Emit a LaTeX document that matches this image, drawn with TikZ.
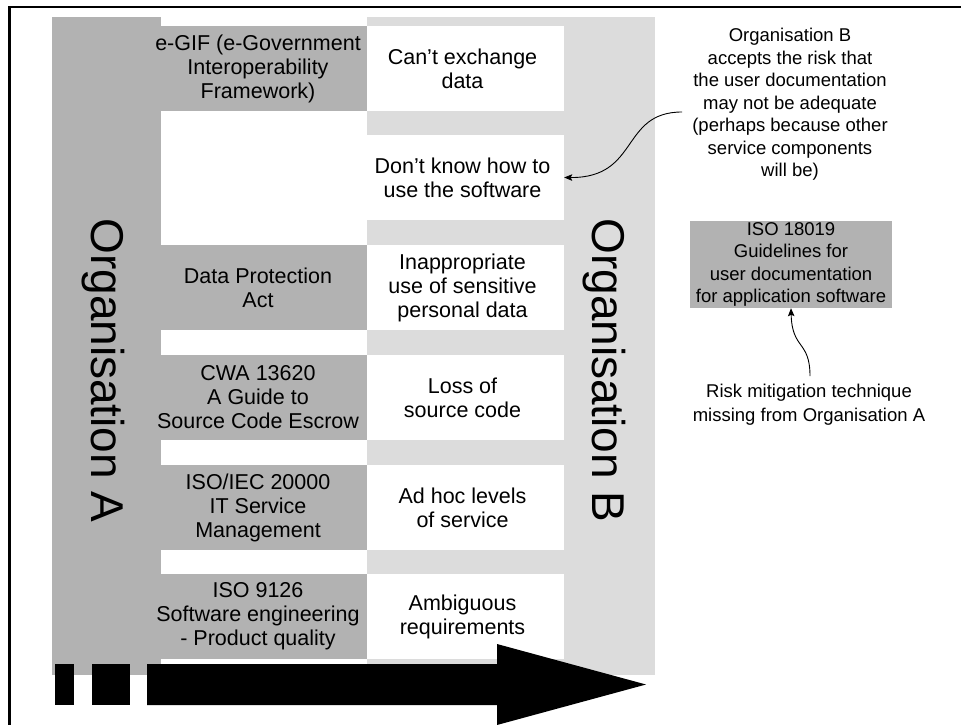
\documentclass[tikz,border=0pt]{standalone}
\usepackage{fontspec}
\setmainfont{Liberation Sans}
\usetikzlibrary{arrows.meta}
\definecolor{darkband}{gray}{0.70}
\definecolor{lightband}{gray}{0.863}
\begin{document}
\begin{tikzpicture}[x=1pt,y=-1pt,
  boxtext/.style={align=center, inner sep=0pt, font=\fontsize{21.5}{24}\selectfont},
  stdbox/.style={fill=darkband, minimum width=206pt, minimum height=85pt,
    inner sep=0pt, label={[boxtext, xshift=-6pt]center:{#1}}},
  riskbox/.style={fill=white, minimum width=197pt, minimum height=85pt,
    inner sep=0pt, label={[boxtext, xshift=-3pt]center:{#1}}},
  orglabel/.style={rotate=-90, anchor=base, inner sep=0pt,
    font=\fontsize{46}{50}\selectfont},
  note/.style={align=center, inner sep=0pt, font=\fontsize{18.5}{22.5}\selectfont},
  callout/.style={-{Stealth[length=8pt,width=6.5pt,inset=1.5pt]}, line width=0.9pt}
]
\useasboundingbox (0,0) rectangle (961,725);

% frame (top and left edges)
\draw[line width=2.3pt] (9.5,740) -- (9.5,6.7) -- (975,6.7);

% the two organisation bands
\fill[darkband] (52,17) rectangle (161,675);
\fill[lightband] (367,17) rectangle (655,675);

% mitigation standards held by Organisation A
\node[stdbox={e-GIF (e-Government\\Interoperability\\Framework)}] (s1) at (264,68.5) {};
\node[stdbox={Data Protection\\Act}] (s3) at (264,287.5) {};
\node[stdbox={CWA 13620\\A Guide to\\Source Code Escrow}] (s4) at (264,397.5) {};
\node[stdbox={ISO/IEC 20000\\IT Service\\Management}] (s5) at (264,507.5) {};
\node[stdbox={ISO 9126\\Software engineering\\- Product quality}] (s6) at (264,616.5) {};

% risks faced by Organisation B
\node[riskbox={Can’t exchange\\data}] (r1) at (465.5,68.5) {};
\node[riskbox={Don’t know how to\\use the software}] (dk) at (465.5,177.5) {};
\node[riskbox={Inappropriate\\use of sensitive\\personal data}] (r3) at (465.5,287.5) {};
\node[riskbox={Loss of\\source code}] (r4) at (465.5,397.5) {};
\node[riskbox={Ad hoc levels\\of service}] (r5) at (465.5,507.5) {};
\node[riskbox={Ambiguous\\requirements}] (r6) at (465.5,616.5) {};

% band titles
\node[orglabel] (orgA) at (91,370.5) {Organisation A};
\node[orglabel] (orgB) at (592,370.5) {Organisation B};

% direction arrow
\fill (55,664) rectangle (74,705);
\fill (92,664) rectangle (130,705);
\fill (147,664) -- (497,664) -- (497,644) -- (646,684.5) -- (497,725)
  -- (497,705) -- (147,705) -- cycle;

% annotations
\node[note] (ann) at (790,104.5) {Organisation B\\accepts the risk that\\the user documentation\\may not be adequate\\(perhaps because other\\service components\\will be)};
\node[note, fill=darkband, minimum width=202pt, minimum height=87pt] (iso) at (791,264.5)
  {ISO 18019\\Guidelines for\\user documentation\\for application software};
\node[note, font=\fontsize{18.5}{24}\selectfont] (risk) at (809,405)
  {Risk mitigation technique\\missing from Organisation A};

\draw[callout] ([xshift=-10pt,yshift=-7.5pt]ann.west)
  .. controls (620,112) and (640,178) .. (dk.east);
\draw[callout] ([xshift=1pt,yshift=8pt]risk.north)
  .. controls (810,340) and (792,350) .. (iso.south);
\end{tikzpicture}
\end{document}
